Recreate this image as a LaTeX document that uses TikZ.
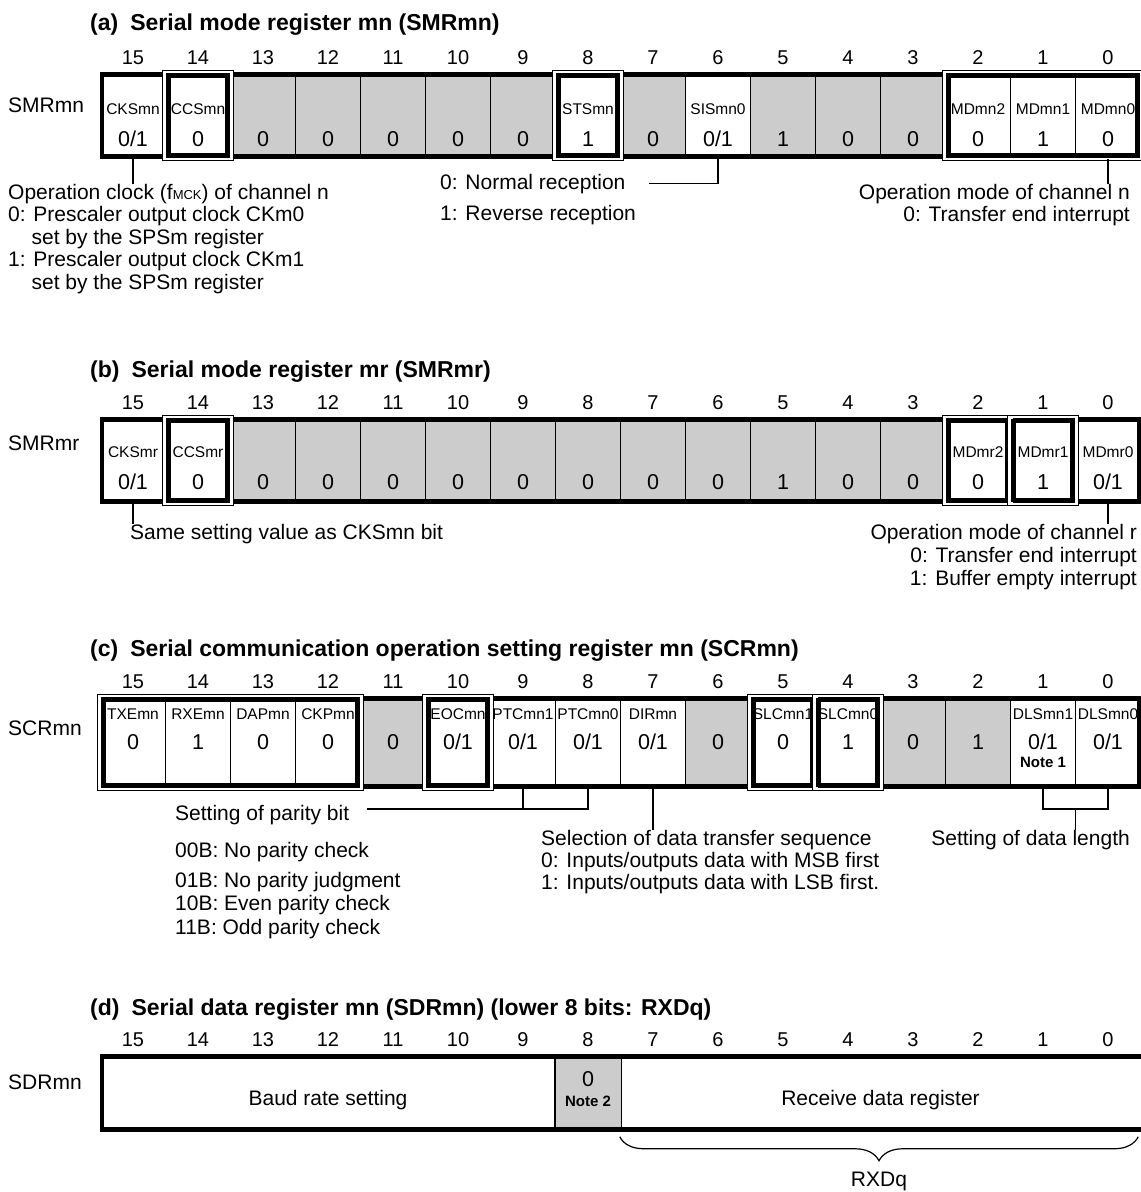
\documentclass[tikz,border=0pt]{standalone}
\usepackage{fontspec}
\setmainfont{Liberation Sans}
\usetikzlibrary{calc, decorations.pathreplacing}

% thick frame drawn just inside the cells #1 (top left) to #2 (bottom right)
\newcommand{\sglframe}[2]{%
    \draw[line width=4.5pt] ([shift={(2.25pt,-2.25pt)}]#1.north west) rectangle ([shift={(-2.25pt,2.25pt)}]#2.south east);}
% thin outer line, white gap, thick inner line
\newcommand{\dblframe}[2]{%
    \draw[white, line width=2.5pt] ([shift={(-0.25pt,0.25pt)}]#1.north west) rectangle ([shift={(0.25pt,-0.25pt)}]#2.south east);
    \draw[line width=1pt] ([shift={(-2pt,2pt)}]#1.north west) rectangle ([shift={(2pt,-2pt)}]#2.south east);
    \draw[line width=4.5pt] ([shift={(3.75pt,-3.75pt)}]#1.north west) rectangle ([shift={(-3.75pt,3.75pt)}]#2.south east);}

\begin{document}
\begin{tikzpicture}[x=1pt, y=-1pt,
    cell/.style={draw=black, line width=1.5pt, rectangle, minimum width=65pt, minimum height=85pt, inner sep=0pt},
    bitnum/.style={font=\fontsize{20}{22}\selectfont, inner sep=0pt},
    bitname/.style={font=\fontsize{15.5}{17}\selectfont, inner sep=0pt},
    bitval/.style={font=\fontsize{21.5}{23}\selectfont, inner sep=0pt},
    note/.style={font=\bfseries\fontsize{15}{16}\selectfont, inner sep=0pt},
    txt/.style={font=\fontsize{21}{22.5}\selectfont, inner sep=0pt, align=left},
    regtitle/.style={font=\bfseries\fontsize{23}{25}\selectfont, inner sep=0pt, anchor=base west},
    reglabel/.style={font=\fontsize{21}{22}\selectfont, inner sep=0pt, anchor=base west},
    conn/.style={line width=1.5pt}]

    % Define colours
    \definecolor{cellGray}{HTML}{CCCCCC}

    % Define cell width and left edge of the registers
    \def\cellW{65}
    \def\leftX{100.5}

    \useasboundingbox (0,0) rectangle (1141,1192);

    % (a) SMRmn
    \node[regtitle] (titleA) at (90,30) {(a)\hspace{12pt}Serial mode register mn (SMRmn)};
    \node[reglabel] (labelA) at (8,112) {SMRmn};
    \foreach \b/\nm/\v/\f in {15/CKSmn/{0/1}/white, 14/CCSmn/0/white, 13//0/cellGray, 12//0/cellGray,
        11//0/cellGray, 10//0/cellGray, 9//0/cellGray, 8/STSmn/1/white, 7//0/cellGray, 6/SISmn0/{0/1}/white,
        5//1/cellGray, 4//0/cellGray, 3//0/cellGray, 2/MDmn2/0/white, 1/MDmn1/1/white, 0/MDmn0/0/white}
    {
        \node[cell, fill=\f] (a\b) at ({\leftX+\cellW*(15-\b)+\cellW/2},115.5) {};
        \node[bitnum] (num-a\b) at ([yshift=15pt]a\b.north) {\b};
        \node[bitname] (name-a\b) at ([yshift=-37pt]a\b.north) {\nm};
        \node[bitval] (val-a\b) at ([yshift=-67pt]a\b.north) {\v};
    }
    \sglframe{a15}{a0}
    \sglframe{a15}{a15}
    \dblframe{a14}{a14}
    \dblframe{a8}{a8}
    \dblframe{a2}{a0}

    % Notes of (a)
    \node[txt, anchor=north west] (aclk) at (8,184) {Operation clock (f{\fontsize{13}{13}\selectfont MCK}) of channel n\\0: Prescaler output clock CKm0\\\hspace*{23.4pt}set by the SPSm register\\1: Prescaler output clock CKm1\\\hspace*{23.4pt}set by the SPSm register};
    \draw[conn] (a15.south) -- (a15.south |- aclk.north);
    \node[txt, anchor=base west] (anorm) at (440,189) {0: Normal reception};
    \node[txt, anchor=base west] (arev) at (440,220) {1: Reverse reception};
    \coordinate (anormEnd) at ([xshift=23pt]anorm.east);
    \draw[conn] (a6.south) |- (anormEnd);
    \node[txt, align=right, anchor=north east] (amode) at (1130,184) {Operation mode of channel n\\0: Transfer end interrupt};
    \draw[conn] (a0.south) -- (a0.south |- amode.north);

    % (b) SMRmr
    \node[regtitle] (titleB) at (90,377) {(b)\hspace{12pt}Serial mode register mr (SMRmr)};
    \node[reglabel] (labelB) at (8,450) {SMRmr};
    \foreach \b/\nm/\v/\f in {15/CKSmr/{0/1}/white, 14/CCSmr/0/white, 13//0/cellGray, 12//0/cellGray,
        11//0/cellGray, 10//0/cellGray, 9//0/cellGray, 8//0/cellGray, 7//0/cellGray, 6//0/cellGray,
        5//1/cellGray, 4//0/cellGray, 3//0/cellGray, 2/MDmr2/0/white, 1/MDmr1/1/white, 0/MDmr0/{0/1}/white}
    {
        \node[cell, fill=\f] (b\b) at ({\leftX+\cellW*(15-\b)+\cellW/2},460.5) {};
        \node[bitnum] (num-b\b) at ([yshift=15pt]b\b.north) {\b};
        \node[bitname] (name-b\b) at ([yshift=-35pt]b\b.north) {\nm};
        \node[bitval] (val-b\b) at ([yshift=-65pt]b\b.north) {\v};
    }
    \sglframe{b15}{b0}
    \sglframe{b15}{b15}
    \dblframe{b14}{b14}
    \dblframe{b2}{b2}
    \dblframe{b1}{b1}

    % Notes of (b)
    \node[txt, anchor=base west] (bsame) at (130,539) {Same setting value as CKSmn bit};
    \draw[conn] (b15.south) -- (b15.south |- bsame.north);
    \node[txt, align=right, anchor=north east, font=\fontsize{21}{23}\selectfont] (bmode) at (1137,524) {Operation mode of channel r\\0: Transfer end interrupt\\1: Buffer empty interrupt};
    \draw[conn] (b0.south) -- (b0.south |- bmode.north);

    % (c) SCRmn
    \node[regtitle] (titleC) at (90,656) {(c)\hspace{12pt}Serial communication operation setting register mn (SCRmn)};
    \node[reglabel] (labelC) at (8,735) {SCRmn};
    \foreach \b/\nm/\v/\f in {15/TXEmn/0/white, 14/RXEmn/1/white, 13/DAPmn/0/white, 12/CKPmn/0/white,
        11//0/cellGray, 10/EOCmn/{0/1}/white, 9/PTCmn1/{0/1}/white, 8/PTCmn0/{0/1}/white, 7/DIRmn/{0/1}/white,
        6//0/cellGray, 5/SLCmn1/0/white, 4/SLCmn0/1/white, 3//0/cellGray, 2//1/cellGray,
        1/DLSmn1/{0/1}/white, 0/DLSmn0/{0/1}/white}
    {
        \node[cell, fill=\f, minimum height=91pt] (c\b) at ({\leftX+\cellW*(15-\b)+\cellW/2},742.5) {};
        \node[bitnum] (num-c\b) at ([yshift=15pt]c\b.north) {\b};
        \node[bitname] (name-c\b) at ([yshift=-18pt]c\b.north) {\nm};
        \node[bitval] (val-c\b) at ([yshift=-46pt]c\b.north) {\v};
    }
    \node[note] (note1) at ([yshift=-66pt]c1.north) {Note 1};
    \sglframe{c15}{c0}
    \dblframe{c15}{c12}
    \dblframe{c10}{c10}
    \dblframe{c5}{c5}
    \dblframe{c4}{c4}

    % Notes of (c)
    \node[txt, anchor=base west] (cpar) at (175,820) {Setting of parity bit};
    \node[txt, anchor=north west, font=\fontsize{21}{23.5}\selectfont] (cparv) at (175,841.7) {00B: No parity check\\[6.5pt]01B: No parity judgment\\10B: Even parity check\\11B: Odd parity check};
    \coordinate (cptc) at ([yshift=-20pt]c8.south);
    \draw[conn] (c9.south) |- (cptc) -- (c8.south);
    \draw[conn] (cptc) -- ([xshift=18pt]cpar.east |- cptc);
    \node[txt, anchor=north west, font=\fontsize{21}{22}\selectfont] (cseq) at (541,829.7) {Selection of data transfer sequence\\0: Inputs/outputs data with MSB first\\1: Inputs/outputs data with LSB first.};
    \draw[conn] (c7.south) -- (c7.south |- cseq.north);
    \coordinate (cdls) at ([yshift=-20pt]c0.south);
    \draw[conn] (c1.south) |- (cdls) -- (c0.south);
    \coordinate (cdlsMid) at ($(c1.south |- cdls)!0.5!(cdls)$);
    \node[txt, anchor=base east] (clen) at (1130,845) {Setting of data length};
    \draw[conn] (cdlsMid) -- (cdlsMid |- clen.north);

    % (d) SDRmn
    \node[regtitle] (titleD) at (90,1015) {(d)\hspace{12pt}Serial data register mn (SDRmn) (lower 8 bits: RXDq)};
    \node[reglabel] (labelD) at (8,1089) {SDRmn};
    \foreach \b in {15,...,0}
    {
        \node[cell, draw=none, minimum height=76pt] (d\b) at ({\leftX+\cellW*(15-\b)+\cellW/2},1093) {};
        \node[bitnum] (num-d\b) at ([yshift=15pt]d\b.north) {\b};
    }
    \fill[cellGray] (d8.north west) rectangle (d8.south east);
    \draw[conn] (d8.north west) -- (d8.south west);
    \draw[conn] (d8.north east) -- (d8.south east);
    \draw[line width=4.5pt, line join=miter] ([yshift=-2.25pt]d0.north east) -- ([shift={(2.25pt,-2.25pt)}]d15.north west)
        -- ([shift={(2.25pt,2.25pt)}]d15.south west) -- ([yshift=2.25pt]d0.south east);
    \node[bitval] (val-d8) at ([yshift=-25pt]d8.north) {0};
    \node[note] (note2) at ([yshift=-47pt]d8.north) {Note 2};
    \node[txt, yshift=-7pt] (dbaud) at ($(d15.west)!0.5!(d9.east)$) {Baud rate setting};
    \node[txt, yshift=-7pt] (drecv) at ($(d7.west)!0.5!(d0.east)$) {Receive data register};

    % Draw the brace under the lower 8 bits
    \coordinate (braceL) at ([yshift=-5pt]d7.south west);
    \coordinate (braceR) at ([shift={(-3pt,-5pt)}]d0.south east);
    \draw[line width=1.2pt, decorate, decoration={brace, amplitude=24pt}] (braceR) -- (braceL);
    \node[txt] (rxdq) at ([yshift=-45pt]$(braceL)!0.5!(braceR)$) {RXDq};

\end{tikzpicture}
\end{document}
